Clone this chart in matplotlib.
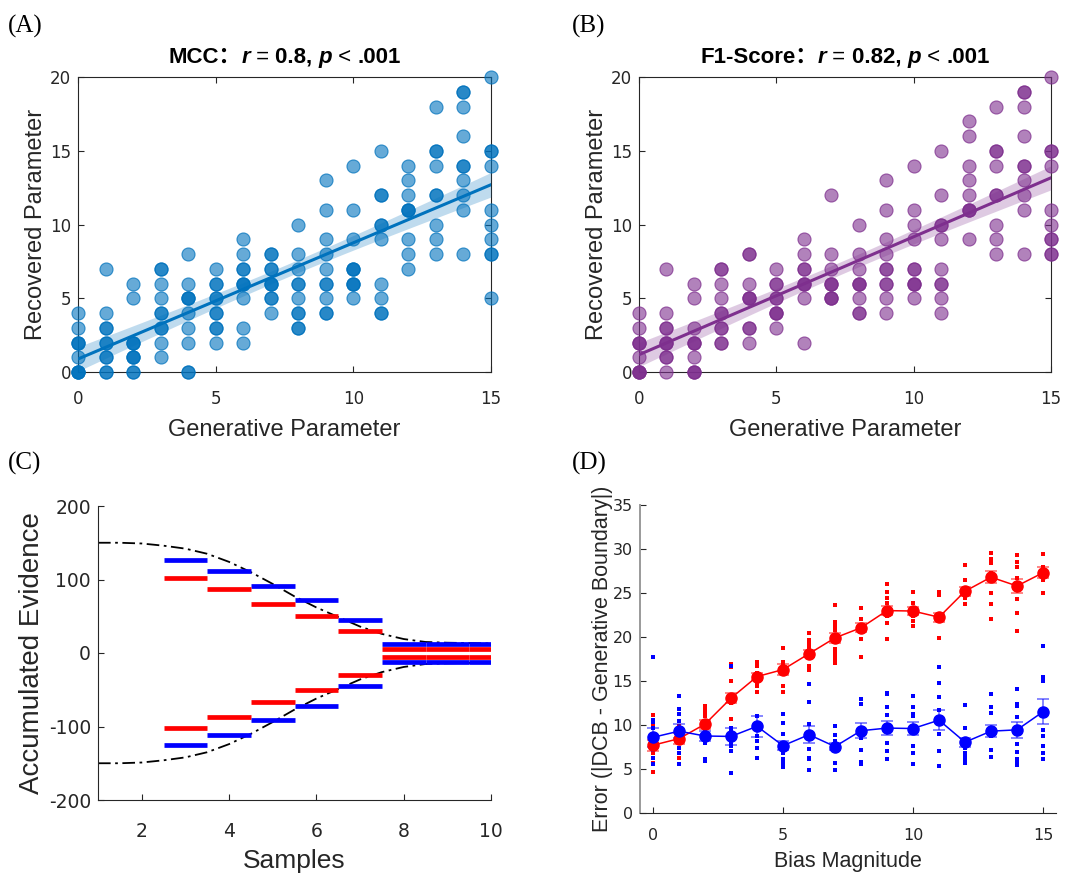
import numpy as np
import matplotlib
matplotlib.use('Agg')
import matplotlib.pyplot as plt

plt.rcParams['font.family'] = ['Liberation Sans', 'Noto Sans CJK SC', 'DejaVu Sans']
plt.rcParams['axes.unicode_minus'] = False

# ---------------- data ----------------
gen_values = list(range(16))

# (A) recovered parameter per generative value (MCC)
mcc_recovered = [
    [4, 3, 2, 2, 2, 1, 0, 0, 0, 0],
    [7, 4, 3, 3, 2, 2, 1, 1, 0, 0],
    [6, 5, 2, 2, 2, 1, 1, 1, 0, 0],
    [7, 7, 6, 5, 4, 4, 3, 3, 2, 1],
    [8, 6, 5, 5, 5, 4, 3, 2, 0, 0],
    [7, 6, 6, 5, 5, 4, 4, 3, 3, 2],
    [9, 8, 7, 7, 6, 6, 6, 5, 3, 2],
    [8, 8, 7, 7, 6, 6, 6, 5, 5, 4],
    [10, 8, 7, 6, 6, 5, 4, 4, 3, 3],
    [13, 11, 9, 8, 7, 6, 6, 5, 4, 4],
    [14, 11, 9, 7, 7, 7, 6, 6, 6, 5],
    [15, 12, 12, 10, 10, 9, 6, 5, 4, 4],
    [14, 13, 12, 11, 11, 11, 9, 8, 7],
    [18, 15, 15, 14, 12, 12, 10, 9, 8],
    [19, 19, 18, 16, 14, 14, 13, 12, 11, 8],
    [20, 15, 15, 14, 11, 10, 9, 8, 8, 5],
]

# (B) recovered parameter per generative value (F1-score)
f1_recovered = [
    [4, 3, 2, 2, 2, 1, 0, 0, 0, 0],
    [7, 4, 3, 3, 2, 2, 2, 1, 1, 0],
    [6, 5, 3, 2, 2, 2, 1, 0, 0, 0],
    [7, 7, 6, 5, 4, 4, 3, 3, 2, 2],
    [8, 8, 6, 5, 5, 5, 3, 3, 2],
    [7, 6, 6, 5, 5, 4, 4, 4, 3],
    [9, 8, 7, 7, 6, 6, 6, 5, 2],
    [12, 8, 7, 6, 6, 6, 5, 5, 5],
    [10, 8, 7, 6, 6, 6, 5, 4, 4],
    [13, 11, 9, 8, 7, 7, 6, 6, 5, 4],
    [14, 11, 10, 9, 7, 7, 6, 6, 6, 5],
    [15, 12, 10, 10, 9, 7, 6, 6, 5, 4],
    [17, 16, 14, 13, 12, 11, 11, 11, 9],
    [18, 15, 15, 14, 12, 12, 10, 9, 8],
    [19, 19, 18, 16, 14, 14, 13, 12, 11, 8],
    [20, 15, 15, 14, 11, 10, 9, 9, 8, 8],
]

# (C) collapsing boundary and evidence levels
bound_x = [1, 1.5, 2, 2.5, 3, 3.5, 4, 4.5, 5, 5.5, 6, 6.5, 7, 7.5, 8, 8.5, 9, 9.5, 10]
bound_upper = [150, 150, 149, 146, 142, 135, 124, 110, 94, 77, 62, 49, 36, 26, 19, 15, 14, 13.5, 13]
bound_lower = [-v for v in bound_upper]
step_samples = [3, 4, 5, 6, 7, 8, 9, 10]
blue_upper = [126, 112, 91.5, 72, 45.5, 12, 12, 12]
red_upper = [102, 86.5, 66.5, 50, 30, 6, 6, 6]
red_lower = [-101.5, -86.5, -66.5, -50, -30, -6, -6, -6]
blue_lower = [-125.5, -112, -91, -72, -45.5, -12, -12, -12]

# (D) error vs bias magnitude
bias = list(range(16))
red_mean = [7.7, 8.45, 10.1, 13.05, 15.5, 16.3, 18.1, 19.9, 21.05, 23.0, 22.95, 22.25, 25.2, 26.8, 25.8, 27.3]
red_sem = [0.6, 0.6, 0.5, 0.6, 0.4, 0.6, 0.4, 0.6, 0.5, 0.5, 0.5, 0.5, 0.5, 0.7, 0.8, 0.6]
blue_mean = [8.6, 9.3, 8.75, 8.7, 9.85, 7.65, 8.9, 7.55, 9.35, 9.65, 9.6, 10.55, 8.05, 9.3, 9.45, 11.5]
blue_sem = [1.1, 0.8, 0.6, 1.0, 1.2, 0.5, 1.0, 0.4, 0.85, 0.8, 0.7, 1.1, 0.5, 0.7, 0.9, 1.4]
red_dots = [
    [11.1, 10.6, 10.0, 8.4, 7.9, 7.4, 6.8, 6.3, 5.7, 4.7],
    [11.2, 10.4, 9.9, 9.1, 8.3, 7.9, 6.8, 6.3, 5.6],
    [12.2, 11.7, 11.5, 11.0, 9.9, 9.3, 8.7, 8.2],
    [16.9, 16.6, 15.0, 13.3, 13.0, 12.8, 12.5, 10.7, 9.1],
    [17.2, 17.0, 16.7, 15.9, 15.5, 15.2, 14.8, 14.4, 13.8],
    [18.8, 17.2, 16.8, 16.3, 16.0, 16.2, 14.4, 13.8],
    [20.4, 19.7, 19.25, 18.9, 18.1, 18.0, 16.75, 16.5, 16.3],
    [23.6, 21.7, 21.3, 20.8, 19.7, 18.6, 18.2, 17.8, 17.4, 17.1],
    [23.3, 22.0, 21.4, 21.1, 20.8, 19.8, 17.7],
    [26.0, 25.1, 24.4, 23.9, 23.0, 22.4, 21.6, 19.8],
    [25.1, 23.9, 23.0, 22.4, 21.8, 21.2],
    [25.1, 24.8, 22.3, 22.0, 19.9],
    [28.2, 26.5, 25.2, 25.0, 24.4, 23.8],
    [29.6, 28.9, 28.4, 27.3, 26.6, 25.0, 23.7, 22.0],
    [29.3, 28.5, 27.9, 26.7, 25.8, 24.3, 22.7, 20.7],
    [29.4, 28.0, 27.6, 27.3, 27.0, 26.5, 25.0],
]
blue_dots = [
    [17.7, 10.6, 10.3, 9.7, 8.2, 7.6, 7.2, 6.3, 5.6],
    [13.3, 11.8, 11.2, 10.4, 9.3, 8.0, 7.4, 6.8, 5.6],
    [9.6, 9.2, 9.1, 8.5, 8.3, 7.97, 6.1, 5.9],
    [16.7, 9.7, 9.3, 8.3, 7.97, 7.6, 7.1, 4.55],
    [11.0, 9.9, 9.9, 8.7, 8.2, 7.4, 6.2],
    [11.2, 10.2, 9.0, 7.6, 6.8, 6.1, 5.7, 5.2],
    [14.7, 12.6, 10.1, 9.1, 7.3, 6.3, 6.1, 4.9],
    [9.9, 8.9, 8.15, 7.6, 7.2, 5.7, 4.9],
    [13.0, 12.4, 9.5, 9.3, 8.5, 7.2, 5.8, 5.6],
    [13.6, 13.5, 12.1, 11.1, 9.7, 8.0, 7.1, 6.1],
    [13.3, 12.0, 11.3, 11.0, 9.7, 7.6, 6.8, 5.6],
    [16.6, 14.8, 13.2, 11.75, 10.4, 9.0, 7.1, 5.3],
    [12.3, 9.7, 8.0, 7.4, 6.8, 6.4, 6.1, 5.7],
    [13.5, 12.1, 11.4, 9.3, 8.7, 7.2, 6.4],
    [14.1, 12.4, 12.2, 10.9, 9.2, 7.8, 6.9, 6.1, 5.8, 5.5],
    [18.95, 15.5, 15.2, 15.0, 9.4, 8.7, 7.6, 6.8, 6.1],
]

MCC_COLOR = (0.0, 0.447, 0.741)
F1_COLOR = (0.494, 0.184, 0.556)
AX_COLOR = '#262626'

W, H = 1065, 875
fig = plt.figure(figsize=(W / 100, H / 100), dpi=100)


def px_axes(left, top, right, bottom):
    return fig.add_axes([left / W, 1 - bottom / H, (right - left) / W, (bottom - top) / H])


def style_axes(ax, box, labelsize, pad_x, pad_y):
    for s in ax.spines.values():
        s.set_color(AX_COLOR)
        s.set_linewidth(0.8)
    if not box:
        ax.spines['top'].set_visible(False)
        ax.spines['right'].set_visible(False)
    ax.tick_params(direction='in', top=box, right=box, length=4, width=0.8,
                   colors=AX_COLOR, labelsize=labelsize, labelfontfamily='DejaVu Sans')
    ax.tick_params(axis='x', pad=pad_x)
    ax.tick_params(axis='y', pad=pad_y)


def rich_title(ax, pieces, above_px, size=16):
    r = fig.canvas.get_renderer()
    widths = []
    for s, kw in pieces:
        t1 = fig.text(0, 0, 'x' + s + 'x', fontsize=size, **kw)
        t2 = fig.text(0, 0, 'xx', fontsize=size, **kw)
        widths.append(t1.get_window_extent(r).width - t2.get_window_extent(r).width)
        t1.remove()
        t2.remove()
    pos = ax.get_position()
    x = (pos.x0 + pos.width / 2) * W - sum(widths) / 2
    y = pos.y1 + above_px / H
    for (s, kw), w in zip(pieces, widths):
        fig.text(x / W, y, s, fontsize=size, ha='left', va='baseline', color='black', **kw)
        x += w


def recovery_panel(ax, recovered, color, label_pieces):
    xs = np.concatenate([[g] * len(v) for g, v in zip(gen_values, recovered)])
    ys = np.concatenate(recovered)
    ax.scatter(xs, ys, s=88, facecolor=color + (0.6,), edgecolor=color + (0.75,),
               linewidth=0.8, clip_on=False, zorder=3)
    slope, icpt = np.polyfit(xs, ys, 1)
    n = len(xs)
    resid = ys - (slope * xs + icpt)
    s_err = np.sqrt(np.sum(resid ** 2) / (n - 2))
    xx = np.linspace(0, 15, 100)
    se = s_err * np.sqrt(1 / n + (xx - xs.mean()) ** 2 / np.sum((xs - xs.mean()) ** 2))
    yy = slope * xx + icpt
    ax.fill_between(xx, yy - 1.98 * se, yy + 1.98 * se, color=color, alpha=0.25, lw=0, zorder=4)
    ax.plot(xx, yy, color=color, lw=2.2, zorder=5)
    ax.set_xlim(0, 15)
    ax.set_ylim(0, 20)
    ax.set_xticks([0, 5, 10, 15])
    ax.set_yticks([0, 5, 10, 15, 20])
    style_axes(ax, True, 12, 13, 5)
    ax.set_xlabel('Generative Parameter', fontsize=17, color=AX_COLOR)
    ax.set_ylabel('Recovered Parameter', fontsize=17, color=AX_COLOR)
    ax.xaxis.set_label_coords(0.5, -0.16)
    ax.yaxis.set_label_coords(-0.075, 0.5)
    rich_title(ax, label_pieces, 14)


bold = dict(fontweight='bold')
bold_it = dict(fontweight='bold', fontstyle='italic')
plain = dict(fontweight='normal')

# ---- (A)
ax_a = px_axes(78, 77, 491, 372)
recovery_panel(ax_a, mcc_recovered, MCC_COLOR,
               [('MCC：', bold), ('r', bold_it), (' = ', plain), ('0.8, ', bold),
                ('p', bold_it), (' < ', plain), ('.001', bold)])

# ---- (B)
ax_b = px_axes(639, 77, 1051, 372)
recovery_panel(ax_b, f1_recovered, F1_COLOR,
               [('F1-Score：', bold), ('r', bold_it), (' = ', plain), ('0.82, ', bold),
                ('p', bold_it), (' < ', plain), ('.001', bold)])

# ---- (C)
ax_c = px_axes(98, 506, 491, 800)
ax_c.plot(bound_x, bound_upper, color='black', lw=1.3, ls=(0, (7, 2.5, 1.5, 2.5)))
ax_c.plot(bound_x, bound_lower, color='black', lw=1.3, ls=(0, (7, 2.5, 1.5, 2.5)))
lo = [s - 0.5 for s in step_samples]
hi = [s + 0.5 for s in step_samples]
ax_c.hlines(blue_upper, lo, hi, colors='#0000ff', lw=3.4)
ax_c.hlines(red_upper, lo, hi, colors='#ff0000', lw=3.4)
ax_c.hlines(red_lower, lo, hi, colors='#ff0000', lw=3.4)
ax_c.hlines(blue_lower, lo, hi, colors='#0000ff', lw=3.4)
ax_c.set_xlim(1, 10)
ax_c.set_ylim(-200, 200)
ax_c.set_xticks([2, 4, 6, 8, 10])
ax_c.set_yticks([-200, -100, 0, 100, 200])
style_axes(ax_c, False, 13.5, 16, 5)
ax_c.set_xlabel('Samples', fontsize=19, color=AX_COLOR)
ax_c.set_ylabel('Accumulated Evidence', fontsize=20, color=AX_COLOR)
ax_c.xaxis.set_label_coords(0.5, -0.165)
ax_c.yaxis.set_label_coords(-0.135, 0.5)

# ---- (D)
ax_d = px_axes(640, 505, 1056, 813)
for means, sems, dots, col in [(red_mean, red_sem, red_dots, '#ff0000'),
                               (blue_mean, blue_sem, blue_dots, '#0000ff')]:
    dx = np.concatenate([[b] * len(v) for b, v in zip(bias, dots)])
    ax_d.plot(dx, np.concatenate(dots), 's', ms=2.2, mew=0, color=col, zorder=2)
    ax_d.errorbar(bias, means, yerr=sems, fmt='none', ecolor=col, elinewidth=1.1,
                  capsize=4, capthick=1.1, alpha=0.6, zorder=3)
    ax_d.plot(bias, means, '-o', color=col, lw=1.1, ms=8, zorder=4)
ax_d.set_xlim(-0.5, 15.5)
ax_d.set_ylim(0, 35)
ax_d.set_xticks([0, 5, 10, 15])
ax_d.set_yticks(range(0, 36, 5))
style_axes(ax_d, False, 11.5, 11, 5)
ax_d.spines['left'].set_color('#9a9a9a')
ax_d.spines['left'].set_linewidth(1.4)
ax_d.set_xlabel('Bias Magnitude', fontsize=15.5, color=AX_COLOR)
ax_d.set_ylabel('Error (|DCB - Generative Boundary|)', fontsize=15.5, color=AX_COLOR)
ax_d.xaxis.set_label_coords(0.5, -0.125)
ax_d.yaxis.set_label_coords(-0.065, 0.5)

# panel letters
for txt, x, y in [('(A)', 8, 33), ('(B)', 572, 33), ('(C)', 8, 470), ('(D)', 572, 470)]:
    fig.text(x / W, 1 - y / H, txt, fontsize=18, family='Liberation Serif',
             ha='left', va='baseline')

fig.savefig('out.png', dpi=100)
